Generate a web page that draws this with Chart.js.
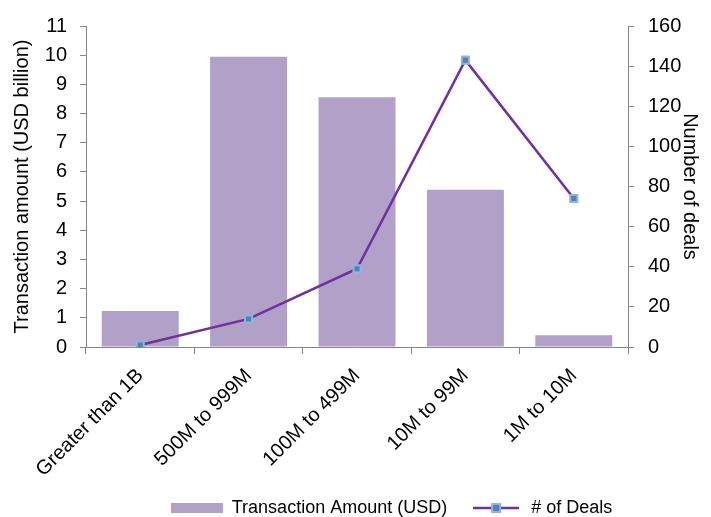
<!DOCTYPE html>
<html>
<head>
<meta charset="utf-8">
<script src="https://cdn.jsdelivr.net/npm/chart.js@4/dist/chart.umd.min.js"></script>
<style>
  html, body { margin: 0; padding: 0; background: #fff; }
  #wrap { width: 711px; height: 517px; }
</style>
</head>
<body>
<div id="wrap"><canvas id="myChart"></canvas></div>
<script>
// categories and values
const categories = ['Greater than 1B', '500M to 999M', '100M to 499M', '10M to 99M', '1M to 10M'];
const amountUsd = [1.23, 9.95, 8.56, 5.39, 0.4];   // USD billion
const dealCount = [1, 14, 39, 143, 74];

const barColor = '#b1a0c7';
const lineColor = '#7030a0';
const markerFill = '#4f81bd';
const markerEdge = '#95b3d7';

// legend symbols drawn as small canvases
function barSymbol() {
	const c = document.createElement('canvas');
	c.width = 52; c.height = 10;
	const g = c.getContext('2d');
	g.fillStyle = barColor;
	g.fillRect(0, 0, 52, 10);
	return c;
}
function lineSymbol() {
	const c = document.createElement('canvas');
	c.width = 46; c.height = 12;
	const g = c.getContext('2d');
	g.strokeStyle = lineColor;
	g.lineWidth = 2.5;
	g.beginPath(); g.moveTo(0, 6); g.lineTo(46, 6); g.stroke();
	g.fillStyle = markerEdge;
	g.fillRect(18, 1, 10, 10);
	g.fillStyle = markerFill;
	g.fillRect(20, 3, 6, 6);
	return c;
}

// legend sits a bit right of centre and low, as in the picture;
// x labels are allowed to run down past the axis box
const legendShift = {
	id: 'legendShift',
	afterLayout(chart) {
		const l = chart.legend;
		l.left += 36; l.right += 36;
		l.top += 10; l.bottom += 10;
		chart.scales.x.bottom = chart.height;
	}
};

const fontFamily = '"Liberation Sans", Arial, sans-serif';

const data = {
	labels: categories,
	datasets: [
		{
			type: 'line',
			label: '# of Deals',
			data: dealCount,
			yAxisID: 'y1',
			borderColor: lineColor,
			borderWidth: 2.5,
			pointStyle: 'rect',
			pointRadius: 5,
			pointBackgroundColor: markerFill,
			pointBorderColor: markerEdge,
			pointBorderWidth: 2,
			tension: 0,
			order: 0
		},
		{
			type: 'bar',
			label: 'Transaction Amount (USD)',
			data: amountUsd,
			yAxisID: 'y',
			backgroundColor: barColor,
			barPercentage: 0.71,
			categoryPercentage: 1,
			order: 1
		}
	]
};

const config = {
	data: data,
	plugins: [legendShift],
	options: {
		responsive: true,
		maintainAspectRatio: false,
		animation: false,
		layout: { padding: { left: 0, right: 0, top: 26, bottom: 0 } },
		plugins: {
			tooltip: { enabled: false },
			legend: {
				position: 'bottom',
				labels: {
					font: { family: fontFamily, size: 18 },
					color: '#000',
					usePointStyle: true,
					pointStyleWidth: 52,
					boxHeight: 12,
					padding: 23,
					generateLabels: function(chart) {
						return [
							{ text: 'Transaction Amount (USD)', pointStyle: barSymbol(), datasetIndex: 1, lineWidth: 0 },
							{ text: '# of Deals', pointStyle: lineSymbol(), datasetIndex: 0, lineWidth: 0 }
						];
					}
				}
			}
		},
		scales: {
			x: {
				afterFit: function(scale) { scale.height = 119; },
				grid: { drawOnChartArea: false, tickLength: 7, color: '#868686' },
				border: { color: '#868686' },
				ticks: {
					font: { family: fontFamily, size: 20 },
					color: '#000',
					maxRotation: 45,
					minRotation: 45,
					autoSkip: false,
					padding: 10
				}
			},
			y: {
				position: 'left',
				min: 0,
				max: 11,
				afterFit: function(scale) { scale.width = 86; },
				ticks: { stepSize: 1, font: { family: fontFamily, size: 20 }, color: '#000', padding: 13 },
				grid: { drawOnChartArea: false, tickLength: 6, color: '#868686' },
				border: { color: '#868686' },
				title: {
					display: true,
					text: 'Transaction amount (USD billion)',
					font: { family: fontFamily, size: 20 },
					color: '#000',
					padding: { top: 10, bottom: 0 }
				}
			},
			y1: {
				position: 'right',
				min: 0,
				max: 160,
				afterFit: function(scale) { scale.width = 83; },
				ticks: { stepSize: 20, font: { family: fontFamily, size: 20 }, color: '#000', padding: 14 },
				grid: { drawOnChartArea: false, tickLength: 6, color: '#868686' },
				border: { color: '#868686' },
				title: {
					display: true,
					text: 'Number of deals',
					font: { family: fontFamily, size: 20 },
					color: '#000',
					padding: { top: 9, bottom: 0 }
				}
			}
		}
	}
};

const myChart = new Chart(document.getElementById('myChart'), config);
</script>
</body>
</html>
